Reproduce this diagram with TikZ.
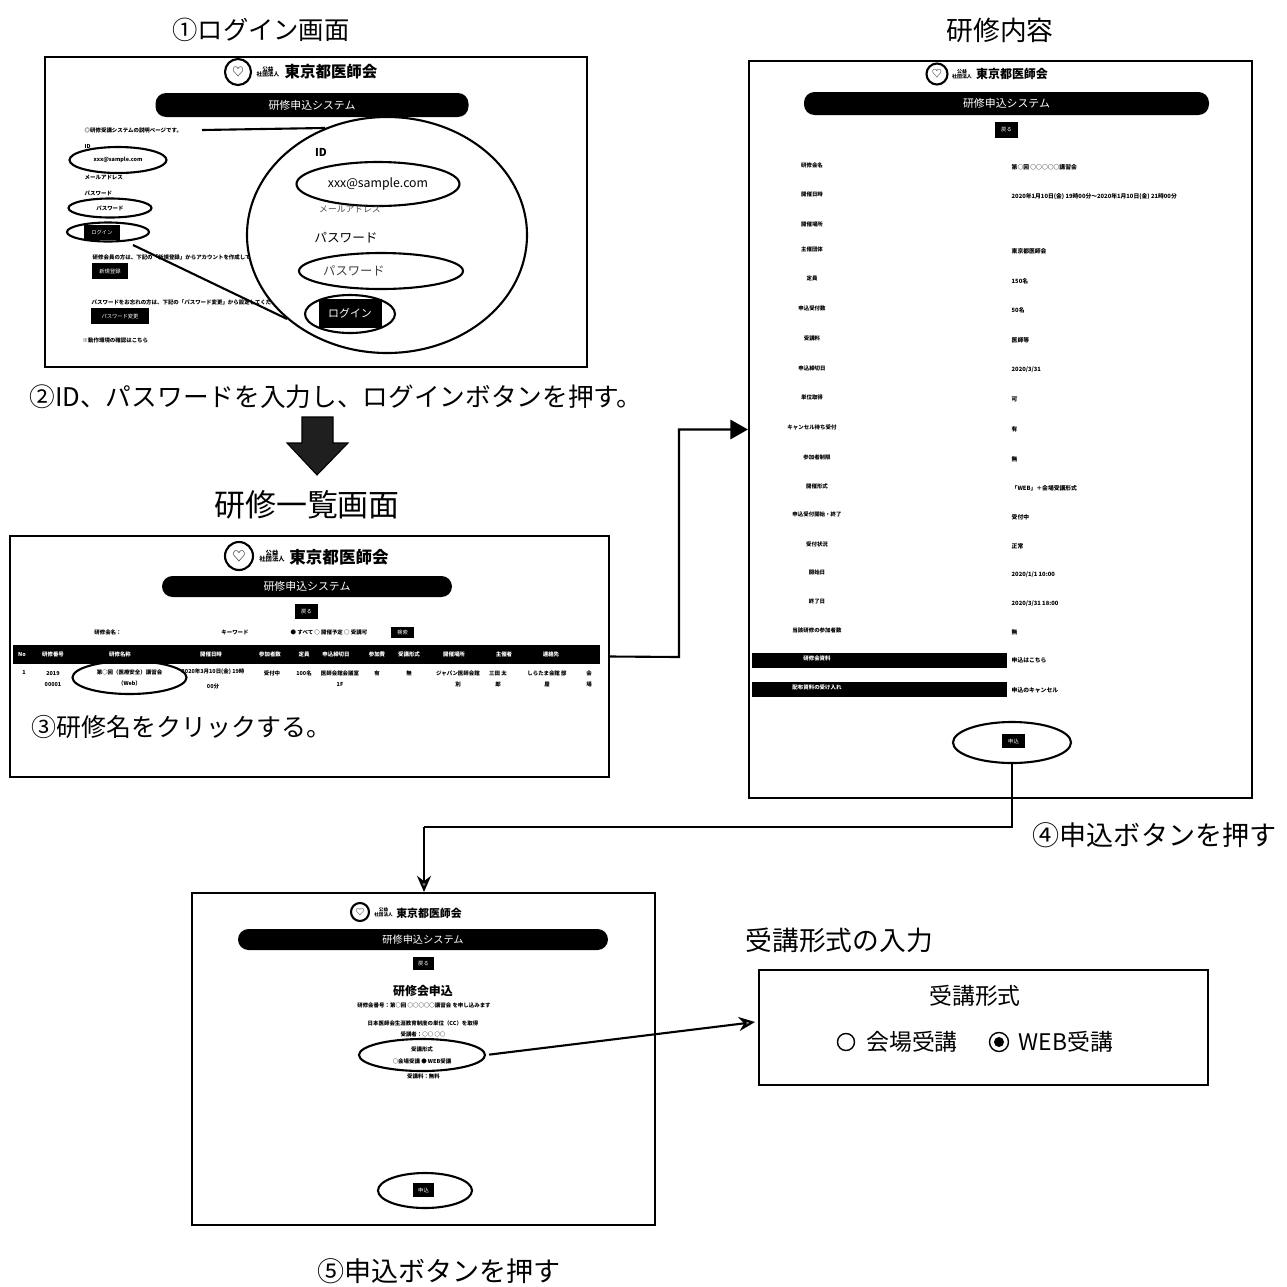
\documentclass[tikz,border=0pt]{standalone}
\usepackage{fontspec}
\setmainfont{Noto Sans CJK JP}
\usetikzlibrary{arrows.meta,shapes.geometric}
\tikzset{
  txt/.style={font=\fontsize{#1}{#1}\selectfont,inner sep=0pt},
  btxt/.style={font=\fontsize{#1}{#1}\selectfont\bfseries,inner sep=0pt},
  sized/.style 2 args={minimum width=#1*0.01cm,minimum height=#2*0.01cm},
  screen/.style={draw,line width=0.6pt,inner sep=0pt},
  oval/.style={ellipse,draw,line width=0.6pt,inner sep=0pt},
  pill/.style={fill=black,text=white,rounded corners=3pt,inner sep=0pt,font=\fontsize{3.1}{3.1}\selectfont},
  blackbox/.style={fill=black,text=white,inner sep=0pt,font=\fontsize{1.5}{1.5}\selectfont},
  emblem/.style={circle,draw,line width=0.6pt,inner sep=0pt,minimum size=#1*0.01cm},
  lineconn/.style={line width=0.6pt},
  tinyline/.style={btxt=1.55,align=center},
  tinylabel/.style={btxt=1.55,align=center},
  tinyvalue/.style={btxt=1.65,anchor=west},
  whitelabel/.style={btxt=1.55,text=white,align=center},
}
\begin{document}
\begin{tikzpicture}[x=0.01cm,y=-0.01cm]
  \useasboundingbox (0,0) rectangle (1287,1287);

  % login screen
  \node[txt=7.2] (logintitle) at (261,30) {①ログイン画面};
  \node[screen,sized={542}{310}] (loginframe) at (316,212) {};
  \node[emblem=26,txt=3.4] (loginmark) at (238,72) {♡};
  \node[btxt=1.6,align=center] (loginorg) at (268,72) {公益\\社団法人};
  \node[btxt=4.4] (loginname) at (331,72) {東京都医師会};
  \node[pill,sized={313}{24}] (loginbar) at (312,105) {研修申込システム};
  \node[tinyline,anchor=west] (loginnote) at (84,130) {◎研修受講システムの説明ページです。};
  \node[tinyline,anchor=west] (idsmall) at (84,146) {ID};
  \node[oval,sized={97}{26},tinyline] (idoval) at (118,160) {xxx@sample.com};
  \node[tinyline,anchor=west] (idhint) at (84,177) {メールアドレス};
  \node[tinyline,anchor=west] (pwsmall) at (84,193) {パスワード};
  \node[oval,sized={83}{19},tinyline] (pwoval) at (110,208) {パスワード};
  \node[blackbox,sized={36}{15}] (loginbtn) at (102,232) {ログイン};
  \node[oval,sized={82}{19}] (loginoval) at (108,232) {};
  \node[tinyline,anchor=west] (newnote) at (92,257) {研修会員の方は、下記の「新規登録」からアカウントを作成してください};
  \node[blackbox,sized={36}{16}] (newbtn) at (110,271) {新規登録};
  \node[tinyline,anchor=west] (chgnote) at (91,302) {パスワードをお忘れの方は、下記の「パスワード変更」から設定してください};
  \node[blackbox,sized={58}{16}] (chgbtn) at (120,316) {パスワード変更};
  \node[tinyline,anchor=west] (helpnote) at (82,340) {※動作環境の確認はこちら};

  % magnified part of the login screen
  \coordinate (noteline) at (202,130);
  \coordinate (btnline) at (133,245);
  \node[ellipse,draw,fill=white,line width=0.6pt,inner sep=0pt,sized={280}{236}] (magview) at (387,235) {};
  \draw[lineconn] (noteline) -- (magview.120);
  \draw[lineconn] (btnline) -- (magview.220);
  \node[btxt=3.1] (magid) at (321,152) {ID};
  \node[oval,sized={163}{44},txt=3.5] (magidoval) at (378,184) {xxx@sample.com};
  \node[txt=2.5,text=black!70] (maghint) at (350,209) {メールアドレス};
  \node[txt=3.6] (magpw) at (346,238) {パスワード};
  \node[oval,sized={164}{36}] (magpwoval) at (381,271) {};
  \node[txt=3.5,text=black!75] (magpwtext) at (354,271) {パスワード};
  \node[blackbox,sized={63}{29},font=\fontsize{3.1}{3.1}\selectfont] (magbtn) at (350,313) {ログイン};
  \node[oval,sized={90}{38}] (magbtnoval) at (350,314) {};

  \node[txt=7.3] (step2) at (336,397) {②ID、パスワードを入力し、ログインボタンを押す。};
  \draw[fill=black!88,draw=black,line width=0.3pt] (302,417) -- (333,417) -- (333,443) -- (348,443)
    -- (317,475) -- (287,443) -- (302,443) -- cycle;

  % list screen
  \node[txt=8.8] (listtitle) at (307,505) {研修一覧画面};
  \node[screen,sized={599}{241}] (listframe) at (309.5,656.5) {};
  \node[emblem=28,txt=3.8] (listmark) at (239,556) {♡};
  \node[btxt=1.8,align=center] (listorg) at (272,556) {公益\\社団法人};
  \node[btxt=4.7] (listname) at (339,557) {東京都医師会};
  \node[pill,sized={290}{21}] (listbar) at (307,586.5) {研修申込システム};
  \node[blackbox,sized={23}{15}] (listback) at (306.5,611.5) {戻る};
  \node[tinyline] (searchname) at (108,632) {研修会名：};
  \node[tinyline] (searchkey) at (235,632) {キーワード};
  \node[tinyline] (searchopt) at (329,632) {● すべて ○ 開催予定 ○ 受講可};
  \node[blackbox,sized={23}{11}] (searchbtn) at (402.5,632.5) {検索};
  \node[fill=black,inner sep=0pt,sized={587}{19}] (listhead) at (306.5,654.5) {};
  \node[whitelabel] (hno) at (22,654) {No};
  \node[whitelabel] (hcode) at (53,654) {研修番号};
  \node[whitelabel] (hname) at (120,654) {研修名称};
  \node[whitelabel] (hdate) at (211,654) {開催日時};
  \node[whitelabel] (hcount) at (270,654) {参加者数};
  \node[whitelabel] (hcap) at (304,654) {定員};
  \node[whitelabel] (hlimit) at (336,654) {申込締切日};
  \node[whitelabel] (hfee) at (377,654) {参加費};
  \node[whitelabel] (hform) at (409,654) {受講形式};
  \node[whitelabel] (hplace) at (454,654) {開催場所};
  \node[whitelabel] (howner) at (504,654) {主催者};
  \node[whitelabel] (htel) at (551,654) {連絡先};
  \node[tinyline] (rno) at (24,673) {1};
  \node[tinyline] (rcode) at (53,679) {2019\\[1.6pt]00001};
  \node[oval,sized={114}{33},tinyline] (rnameoval) at (129.5,677.5) {第○回（医療安全）講習会\\[1.6pt]（Web）};
  \node[tinyline] (rdate) at (213,679) {2020年3月10日(金) 19時\\[1.6pt]00分};
  \node[tinyline] (rcount) at (272,673) {受付中};
  \node[tinyline] (rcap) at (304,673) {100名};
  \node[tinyline] (rlimit) at (340,679) {医師会館会議室\\[1.6pt]1F};
  \node[tinyline] (rfee) at (377,673) {有};
  \node[tinyline] (rform) at (409,673) {無};
  \node[tinyline] (rplace) at (458,679) {ジャパン医師会館\\[1.6pt]別};
  \node[tinyline] (rowner) at (498,679) {三田 太\\[1.6pt]郎};
  \node[tinyline] (rtel) at (547,679) {しらたま会館 部\\[1.6pt]屋};
  \node[tinyline] (rmore) at (589,679) {会\\[1.6pt]場};
  \node[txt=7.1,anchor=west] (step3) at (31,727) {③研修名をクリックする。};

  % detail screen
  \node[txt=7.6] (detailtitle) at (1000,30) {研修内容};
  \node[screen,sized={503}{737}] (detailframe) at (1000.5,429.5) {};
  \node[emblem=21,txt=2.9] (detailmark) at (937,74) {♡};
  \node[btxt=1.4,align=center] (detailorg) at (962,74) {公益\\社団法人};
  \node[btxt=3.4] (detailname) at (1012,74) {東京都医師会};
  \node[pill,sized={405}{23}] (detailbar) at (1006.5,103.5) {研修申込システム};
  \node[blackbox,sized={23}{16}] (detailback) at (1006.5,130) {戻る};
  \node[tinylabel] (lname) at (812,165) {研修会名};
  \node[tinyvalue] (vname) at (1011,167) {第○回 ○○○○○講習会};
  \node[tinylabel] (ldate) at (812,194) {開催日時};
  \node[tinyvalue] (vdate) at (1011,197) {2020年1月10日(金) 19時00分～2020年1月10日(金) 21時00分};
  \node[tinylabel] (lplace) at (812,224) {開催場所};
  \node[tinylabel] (lowner) at (812,249) {主催団体};
  \node[tinyvalue] (vowner) at (1011,251) {東京都医師会};
  \node[tinylabel] (lcap) at (812,278) {定員};
  \node[tinyvalue] (vcap) at (1011,281) {150名};
  \node[tinylabel] (lcount) at (812,308) {申込受付数};
  \node[tinyvalue] (vcount) at (1011,310) {50名};
  \node[tinylabel] (lfee) at (812,338) {受講料};
  \node[tinyvalue] (vfee) at (1011,340) {医師等};
  \node[tinylabel] (llimit) at (812,368) {申込締切日};
  \node[tinyvalue] (vlimit) at (1011,370) {2020/3/31};
  \node[tinylabel] (lunit) at (812,397) {単位取得};
  \node[tinyvalue] (vunit) at (1011,399) {可};
  \node[tinylabel] (lwait) at (812,427) {キャンセル待ち受付};
  \node[tinyvalue] (vwait) at (1011,429) {有};
  \node[tinylabel] (lkind) at (817,457) {参加者制限};
  \node[tinyvalue] (vkind) at (1011,459) {無};
  \node[tinylabel] (lform) at (817,486) {開催形式};
  \node[tinyvalue] (vform) at (1011,488) {「WEB」＋会場受講形式};
  \node[tinylabel] (lstate) at (817,514) {申込受付開始・終了};
  \node[tinyvalue] (vstate) at (1011,517) {受付中};
  \node[tinylabel] (lnorm) at (817,544) {受付状況};
  \node[tinyvalue] (vnorm) at (1011,546) {正常};
  \node[tinylabel] (lstart) at (817,572) {開始日};
  \node[tinyvalue] (vstart) at (1011,575) {2020/1/1 10:00};
  \node[tinylabel] (lend) at (817,601) {終了日};
  \node[tinyvalue] (vend) at (1011,604) {2020/3/31 18:00};
  \node[tinylabel] (lquota) at (817,630) {当該研修の参加者数};
  \node[tinyvalue] (vquota) at (1011,632) {無};
  \node[fill=black,inner sep=0pt,sized={255}{15}] (lbarone) at (879.5,660.5) {};
  \node[whitelabel] (lbaronetext) at (817,658) {研修会資料};
  \node[tinyvalue] (vbarone) at (1011,660) {申込はこちら};
  \node[fill=black,inner sep=0pt,sized={255}{15}] (lbartwo) at (879.5,689.5) {};
  \node[whitelabel] (lbartwotext) at (817,687) {配布資料の受け入れ};
  \node[tinyvalue] (vbartwo) at (1011,690) {申込のキャンセル};
  \node[blackbox,sized={23}{14}] (detailbtn) at (1013.5,741) {申込};
  \node[oval,sized={118}{41}] (detailoval) at (1012,742.5) {};
  \node[txt=7.7,anchor=west] (step4) at (1032,835) {④申込ボタンを押す};

  % apply screen
  \node[screen,sized={463}{332}] (applyframe) at (423.5,1059) {};
  \node[emblem=18,txt=2.5] (applymark) at (360,912) {♡};
  \node[btxt=1.3,align=center] (applyorg) at (383.5,912) {公益\\社団法人};
  \node[btxt=3.1] (applyname) at (429,913) {東京都医師会};
  \node[pill,sized={370}{21},font=\fontsize{2.9}{2.9}\selectfont] (applybar) at (423,939.5) {研修申込システム};
  \node[blackbox,sized={21}{13}] (applyback) at (423.5,963.5) {戻る};
  \node[btxt=3.4] (applyhead) at (423,991) {研修会申込};
  \node[tinylabel] (applyone) at (424,1005) {研修会番号：第○回 ○○○○○講習会 を申し込みます};
  \node[tinyline] (applytwo) at (423,1023) {日本医師会生涯教育制度の単位（CC）を取得};
  \node[tinyline] (applythree) at (423,1034) {受講者：○○ ○○};
  \node[oval,sized={126}{32},tinylabel] (applyoval) at (422,1055) {受講形式\\[1.9pt]○会場受講 ● WEB受講};
  \node[tinylabel] (applyfour) at (423.5,1076) {受講料：無料};
  \node[blackbox,sized={21}{14}] (applybtn) at (423.5,1190) {申込};
  \node[oval,sized={94}{35}] (applybtnoval) at (425,1190.5) {};
  \node[txt=7.7] (step5) at (439,1271) {⑤申込ボタンを押す};

  % form panel
  \node[txt=7.6,anchor=west] (formtitle) at (745,940) {受講形式の入力};
  \node[screen,sized={449}{115}] (formframe) at (983.5,1027.5) {};
  \node[txt=6.5] (formhead) at (975,996) {受講形式};
  \node[circle,draw,line width=0.4pt,inner sep=0pt,minimum size=0.17cm] (radioa) at (846,1042) {};
  \node[txt=6.5] (formsite) at (912,1042) {会場受講};
  \node[circle,draw,line width=0.4pt,inner sep=0pt,minimum size=0.19cm] (radiob) at (999,1042) {};
  \node[circle,fill=black,inner sep=0pt,minimum size=0.1cm] (radiodot) at (999,1042) {};
  \node[txt=6.5,anchor=west] (formweb) at (1018,1042) {WEB受講};

  % connectors
  \coordinate (listbend) at (679,657);
  \coordinate (detailbend) at (1012,827);
  \coordinate (applybend) at (424,827);
  \coordinate (applytop) at (424,892);
  \coordinate (formend) at (755,1022);
  \draw[lineconn,-{Triangle[length=5pt,width=5.5pt]}] (listframe.east) -- (listbend) |- (detailframe.west);
  \draw[lineconn] (detailoval.south) -- (detailbend) -- (applybend);
  \draw[lineconn,-{Stealth[length=4.6pt,width=4pt,fill=black!45]}] (applybend) -- (applytop);
  \draw[lineconn,shorten <=0.9pt,-{Stealth[length=4.6pt,width=4pt,fill=black!45]}] (applyoval.east) -- (formend);
\end{tikzpicture}
\end{document}
